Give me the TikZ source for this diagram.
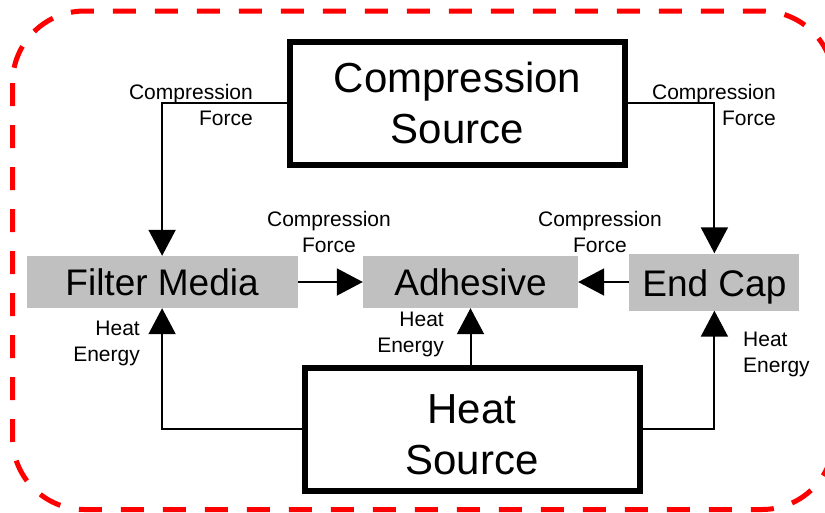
\documentclass[tikz,border=0pt]{standalone}
\usepackage{fontspec}
\setmainfont{Liberation Sans}
\definecolor{boxgray}{RGB}{192, 192, 192}
\definecolor{frame}{RGB}{255, 0, 0}
\usetikzlibrary{positioning,arrows.meta}

\begin{document}
\begin{tikzpicture}[
            x=1pt, y=-1pt,
            >={Triangle[length=26pt,width=27pt]},
            sourcebox/.style={
                rectangle, draw=black, fill=white,
                line width=6pt,
                minimum width=335pt,
                minimum height=123pt,
                inner sep=0pt, align=center,
                font=\fontsize{42}{51}\selectfont
            },
            partbox/.style={
                rectangle, fill=boxgray,
                minimum height=52pt,
                inner sep=0pt,
                font=\fontsize{37}{44}\selectfont
            },
            flowlabel/.style={
                inner sep=0pt,
                font=\fontsize{21}{26}\selectfont
            },
            flow/.style={->, line width=2pt},
        ]
            \useasboundingbox (0,0) rectangle (825,512);
            \draw[frame, line width=5pt, dash pattern=on 23pt off 19pt, rounded corners=72pt]
                (12.5,11) rectangle (834,509.5);

            \node [partbox, minimum width=215pt] (adhesive) at (470.5,282) {Adhesive};
            \node [partbox, minimum width=271pt] (filter) [ left= 65pt of adhesive ] {Filter Media};
            \node [partbox, minimum width=170pt, minimum height=57pt] (endcap) [ right= 51pt of adhesive ] {\rule{0pt}{37pt}End Cap};
            \node [sourcebox] (compsrc) at (457.5,103) {Compression\\Source};
            \node [sourcebox] (heatsrc) at (472,429) {\rule{0pt}{40pt}Heat\\Source};

            \draw[flow] (compsrc.west) -| (filter.north);
            \draw[flow] (compsrc.east) -| (endcap.north);
            \draw[flow] (filter.east) -- (adhesive.west);
            \draw[flow] (endcap.west) -- (adhesive.east);
            \draw[flow] (heatsrc.west) -| (filter.south);
            \draw[flow] (heatsrc.east) -| (endcap.south);
            \draw[flow] (heatsrc.north -| adhesive) -- (adhesive.south);

            \node [flowlabel, align=right, anchor=east] (forceTL) at (253,105) {Compression\\Force};
            \node [flowlabel, align=right, anchor=east] (forceTR) at (776,105) {Compression\\Force};
            \node [flowlabel, align=center] (forceML) at (329,232) {Compression\\Force};
            \node [flowlabel, align=center] (forceMR) at (600,232) {Compression\\Force};
            \node [flowlabel, align=right, anchor=east] (heatL) at (140,343) {Heat\\Energy};
            \node [flowlabel, align=right, anchor=east] (heatM) at (444,334) {Heat\\Energy};
            \node [flowlabel, align=left, anchor=west] (heatR) at (743,354) {Heat\\Energy};

        \end{tikzpicture}
\end{document}
